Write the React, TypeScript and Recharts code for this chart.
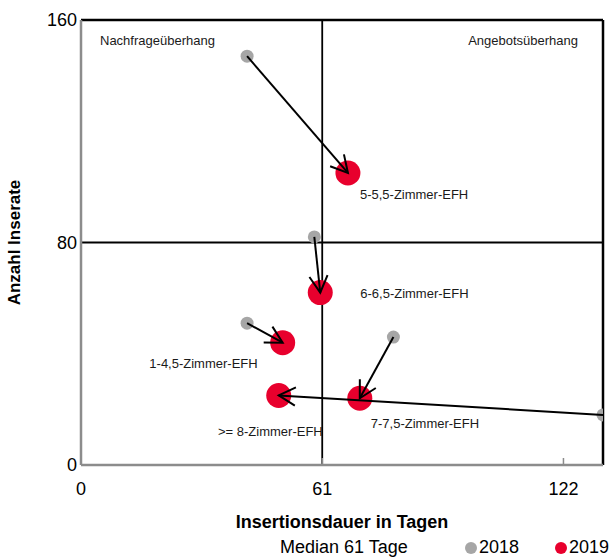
import React from 'react';
import {
  ScatterChart,
  Scatter,
  XAxis,
  YAxis,
  ReferenceLine,
  ReferenceArea,
} from 'recharts';

const categories = [
  '1-4,5-Zimmer-EFH',
  '5-5,5-Zimmer-EFH',
  '6-6,5-Zimmer-EFH',
  '7-7,5-Zimmer-EFH',
  '>= 8-Zimmer-EFH',
];
const dauer2018 = [42, 42, 59, 79, 132];
const inserate2018 = [51, 147, 82, 46, 18];
const dauer2019 = [51, 67.5, 60.5, 70.5, 50];
const inserate2019 = [44, 105, 62, 24, 25];

const xTicks = [0, 61, 122];
const yTicks = [0, 80, 160];
const median = 61;
const midInserate = 80;

// label placement next to the red 2019 points (px offsets, anchor)
const labelPos: Record<string, { dx: number; dy: number; anchor: string }> = {
  '1-4,5-Zimmer-EFH': { dx: -25, dy: 25, anchor: 'end' },
  '5-5,5-Zimmer-EFH': { dx: 12, dy: 26, anchor: 'start' },
  '6-6,5-Zimmer-EFH': { dx: 40, dy: 5, anchor: 'start' },
  '7-7,5-Zimmer-EFH': { dx: 11, dy: 30, anchor: 'start' },
  '>= 8-Zimmer-EFH': { dx: 44, dy: 41, anchor: 'end' },
};

const FONT = '"Liberation Sans Narrow", "Arial Narrow", "Liberation Sans", Arial, sans-serif';
const RED = '#E8002D';
const GRAY = '#A6A6A6';

const data2018 = categories.map((name, i) => ({ name, x: dauer2018[i], y: inserate2018[i] }));
const data2019 = categories.map((name, i) => ({ name, x: dauer2019[i], y: inserate2019[i] }));
// one two-point series per category, drawn as an arrow from 2018 to 2019
const moves = categories.map((name, i) => [
  { name, x: dauer2018[i], y: inserate2018[i] },
  { name, x: dauer2019[i], y: inserate2019[i] },
]);

const Arrow = (props: any) => {
  const pts = props.points || [];
  if (pts.length < 2) return null;
  const { x: x1, y: y1 } = pts[0];
  const { x: x2, y: y2 } = pts[1];
  const ang = Math.atan2(y2 - y1, x2 - x1);
  const len = 19;
  const spread = 0.5;
  const ax = x2 - len * Math.cos(ang - spread);
  const ay = y2 - len * Math.sin(ang - spread);
  const bx = x2 - len * Math.cos(ang + spread);
  const by = y2 - len * Math.sin(ang + spread);
  return (
    <g>
      <line x1={x1} y1={y1} x2={x2} y2={y2} stroke="#000" strokeWidth={2} />
      <path d={`M${ax},${ay} L${x2},${y2} L${bx},${by}`} fill="none" stroke="#000" strokeWidth={2} />
    </g>
  );
};

const RedDot = (props: any) => {
  const { cx, cy, payload } = props;
  const lp = labelPos[payload.name];
  return (
    <g>
      <circle cx={cx} cy={cy} r={12.5} fill={RED} />
      <text
        x={cx + lp.dx}
        y={cy + lp.dy}
        textAnchor={lp.anchor as any}
        fontFamily={FONT}
        fontSize={13}
        fill="#1a1a1a"
      >
        {payload.name}
      </text>
    </g>
  );
};

const GrayDot = (props: any) => <circle cx={props.cx} cy={props.cy} r={6.5} fill={GRAY} />;
const NoDot = () => <g />;

const XTick = (props: any) => {
  const { x, y, payload } = props;
  return (
    <g>
      <line x1={x} y1={y - 7} x2={x} y2={y} stroke="#8c8c8c" strokeWidth={1.5} />
      <text x={x} y={y + 30} textAnchor="middle" fontFamily={FONT} fontSize={18} fill="#000">
        {payload.value}
      </text>
    </g>
  );
};

const YTick = (props: any) => {
  const { x, y, payload } = props;
  return (
    <text x={x - 4} y={y + 6} textAnchor="end" fontFamily={FONT} fontSize={18} fill="#000">
      {payload.value}
    </text>
  );
};

export default function App() {
  return (
    <div style={{ position: 'absolute', left: 0, top: 0, width: 609, height: 558, background: '#fff' }}>
      <ScatterChart width={609} height={558} margin={{ top: 20, right: 6, bottom: 42, left: 0 }}>
        <XAxis
          type="number"
          dataKey="x"
          domain={[0, 132]}
          ticks={xTicks}
          allowDataOverflow
          height={51}
          tickLine={false}
          tickSize={0}
          tickMargin={0}
          tick={<XTick />}
          axisLine={{ stroke: '#8c8c8c', strokeWidth: 2.5 }}
          label={{
            content: (p: any) => (
              <text
                x={p.viewBox.x + p.viewBox.width / 2}
                y={528}
                textAnchor="middle"
                fontFamily={FONT}
                fontSize={18}
                fontWeight="bold"
                fill="#000"
              >
                Insertionsdauer in Tagen
              </text>
            ),
          }}
        />
        <YAxis
          type="number"
          dataKey="y"
          domain={[0, 160]}
          ticks={yTicks}
          width={81}
          tickLine={false}
          tickSize={0}
          tickMargin={0}
          tick={<YTick />}
          axisLine={{ stroke: '#8c8c8c', strokeWidth: 2.5 }}
          label={{
            content: (p: any) => {
              const cy = p.viewBox.y + p.viewBox.height / 2;
              return (
                <text
                  x={20}
                  y={cy}
                  transform={`rotate(-90, 20, ${cy})`}
                  textAnchor="middle"
                  fontFamily={FONT}
                  fontSize={17}
                  fontWeight="bold"
                  fill="#000"
                >
                  Anzahl Inserate
                </text>
              );
            },
          }}
        />
        <ReferenceArea
          x1={0}
          x2={median}
          y1={midInserate}
          y2={160}
          fill="none"
          stroke="none"
          label={{
            content: (p: any) => (
              <text x={p.viewBox.x + 19} y={p.viewBox.y + 25} fontFamily={FONT} fontSize={13} fill="#1a1a1a">
                Nachfrageüberhang
              </text>
            ),
          }}
        />
        <ReferenceArea
          x1={median}
          x2={132}
          y1={midInserate}
          y2={160}
          fill="none"
          stroke="none"
          label={{
            content: (p: any) => (
              <text
                x={p.viewBox.x + p.viewBox.width - 25}
                y={p.viewBox.y + 25}
                textAnchor="end"
                fontFamily={FONT}
                fontSize={13}
                fill="#1a1a1a"
              >
                Angebotsüberhang
              </text>
            ),
          }}
        />
        <ReferenceLine y={160} stroke="#000" strokeWidth={2.5} />
        <ReferenceLine x={132} stroke="#000" strokeWidth={2.5} />
        <ReferenceLine x={median} stroke="#000" strokeWidth={1.8} />
        <ReferenceLine y={midInserate} stroke="#000" strokeWidth={1.8} />
        <Scatter name="2018" data={data2018} shape={<GrayDot />} isAnimationActive={false} />
        <Scatter name="2019" data={data2019} shape={<RedDot />} isAnimationActive={false} />
        {moves.map((m) => (
          <Scatter
            key={m[0].name}
            data={m}
            line={<Arrow />}
            shape={<NoDot />}
            isAnimationActive={false}
          />
        ))}
      </ScatterChart>
      <div
        style={{
          position: 'absolute',
          top: 536,
          left: 0,
          width: 609,
          height: 22,
          fontFamily: FONT,
          fontSize: 18,
          lineHeight: '22px',
          color: '#000',
        }}
      >
        <span style={{ position: 'absolute', left: 280 }}>Median 61 Tage</span>
        <span
          style={{ position: 'absolute', left: 465, top: 6, width: 12, height: 12, borderRadius: 6, background: GRAY }}
        />
        <span style={{ position: 'absolute', left: 479 }}>2018</span>
        <span
          style={{ position: 'absolute', left: 555, top: 6, width: 12, height: 12, borderRadius: 6, background: RED }}
        />
        <span style={{ position: 'absolute', left: 569 }}>2019</span>
      </div>
    </div>
  );
}
